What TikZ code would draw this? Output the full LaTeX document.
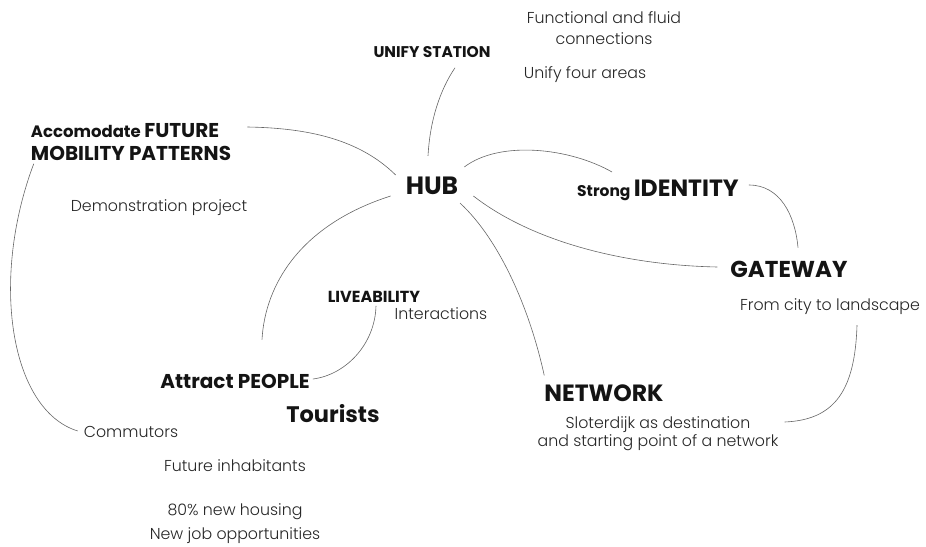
\documentclass[tikz,border=0pt]{standalone}
\usepackage{fontspec}
\setmainfont{Poppins}
\newfontfamily\lightfont{Poppins Light}
\begin{document}
\begin{tikzpicture}[x=1pt,y=-1pt,
  txt/.style={inner sep=0pt,font=\lightfont\fontsize{15.8}{21}\selectfont,text=black!85,align=center},
  bold/.style={inner sep=0pt,font=\bfseries,text=black!92,align=center},
  link/.style={draw=black!60,line width=0.6pt}]
\useasboundingbox (0,0) rectangle (926,546);
% texts
\node[txt] (func) at (604,28) {Functional and fluid\\connections};
\node[txt] (unifya) at (585,75) {Unify four areas};
\node[bold,font=\bfseries\fontsize{15.5}{18}\selectfont] (unify) at (432,52) {UNIFY STATION};
\node[bold,align=left,font=\bfseries\fontsize{20}{23}\selectfont] (acc) at (131,142) {{\fontsize{16.5}{23}\selectfont Accomodate }FUTURE\\MOBILITY PATTERNS};
\node[txt] (demo) at (159,208) {Demonstration project};
\node[bold,font=\bfseries\fontsize{25}{28}\selectfont] (hub) at (432,186) {HUB};
\node[bold,anchor=base west] (ident) at (577,196) {{\fontsize{15.5}{18}\selectfont Strong }{\fontsize{23.5}{26}\selectfont IDENTITY}};
\node[bold,font=\bfseries\fontsize{23}{26}\selectfont] (gate) at (789,269) {GATEWAY};
\node[txt] (city) at (830,307) {From city to landscape};
\node[bold,font=\bfseries\fontsize{16}{18}\selectfont] (live) at (374,297) {LIVEABILITY};
\node[txt] (inter) at (441,314) {Interactions};
\node[bold,font=\bfseries\fontsize{20}{23}\selectfont] (people) at (235,381) {Attract PEOPLE};
\node[bold,font=\bfseries\fontsize{22.5}{26}\selectfont] (tour) at (333,414) {Tourists};
\node[bold,font=\bfseries\fontsize{23.5}{26}\selectfont] (net) at (604,393) {NETWORK};
\node[txt,font=\lightfont\fontsize{15.8}{18}\selectfont] (slot) at (658,434) {Sloterdijk as destination\\and starting point of a network};
\node[txt] (comm) at (131,432) {Commutors};
\node[txt] (futinh) at (235,466) {Future inhabitants};
\node[txt,font=\lightfont\fontsize{15.8}{24}\selectfont] (house) at (235,524) {80\% new housing\\New job opportunities};
% connectors
\draw[link] ([shift={(-4,-21)}]hub.north) .. controls (430,120) and (440,90) .. ([shift={(23,10)}]unify.south);
\draw[link] ([shift={(-10,-2)}]hub.north west) .. controls (360,140) and (310,128) .. ([shift={(16,-15)}]acc.east);
\draw[link] ([shift={(6,-10)}]hub.north east) .. controls (500,140) and (570,148) .. ([shift={(35,-24)}]ident.base west);
\draw[link] ([shift={(10,-11)}]ident.base east) .. controls (780,185) and (795,215) .. ([shift={(9,-13)}]gate.north);
\draw[link] ([shift={(15,10)}]hub.east) .. controls (530,240) and (620,265) .. ([shift={(-13,-2)}]gate.west);
\draw[link] ([shift={(-15,10)}]hub.west) .. controls (300,225) and (265,285) .. ([shift={(27,-34)}]people.north);
\draw[link] ([shift={(2,3)}]live.south) .. controls (375,345) and (345,375) .. ([shift={(3,-2)}]people.east);
\draw[link] ([shift={(28,8)}]hub.south) .. controls (500,240) and (530,310) .. ([shift={(0,-9)}]net.north west);
\draw[link] ([shift={(27,10)}]city.south) .. controls (855,390) and (835,420) .. ([shift={(6,-12)}]slot.east);
\draw[link] ([shift={(3,3)}]acc.south west) .. controls (-10,280) and (10,410) .. ([shift={(-6,-1)}]comm.west);
\end{tikzpicture}
\end{document}
